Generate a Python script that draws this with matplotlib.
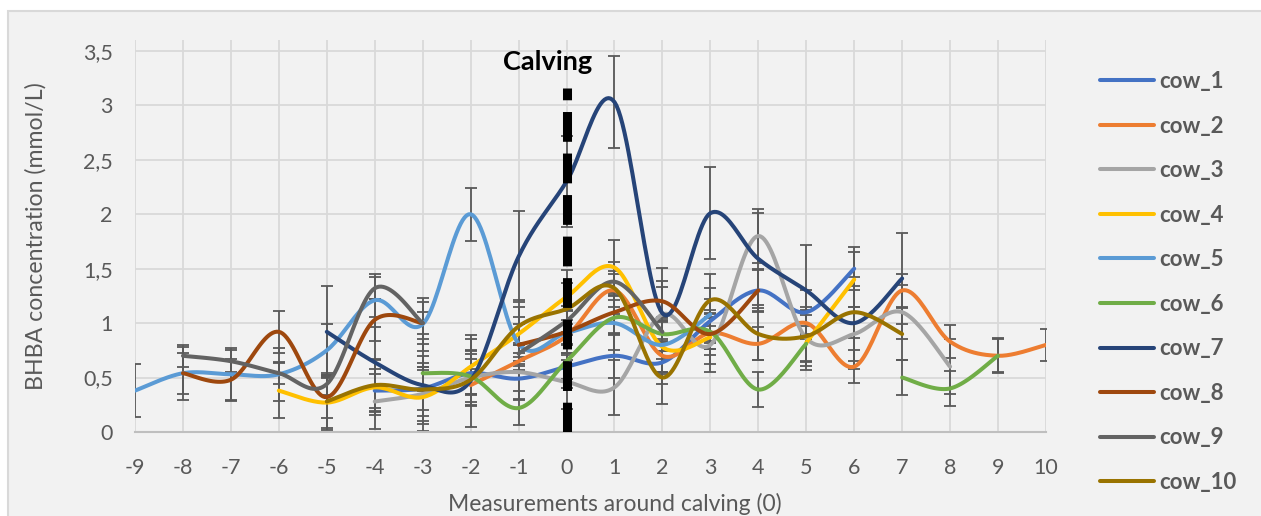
import matplotlib.pyplot as plt
import numpy as np
from matplotlib.patches import Rectangle

nan = np.nan

# measurement index around calving
days = list(range(-9, 11))

#        -9   -8   -7   -6   -5   -4   -3   -2   -1    0    1    2    3    4    5    6    7    8    9   10
cow_1 = [nan, nan, nan, nan, nan, 0.38, 0.40, 0.54, 0.49, 0.60, 0.70, 0.64, 1.02, 1.30, 1.10, 1.50, nan, nan, nan, nan]
cow_2 = [nan, nan, nan, nan, nan, nan, nan, 0.43, 0.65, 0.88, 1.30, 0.70, 0.91, 0.81, 1.00, 0.60, 1.30, 0.83, 0.70, 0.80]
cow_3 = [nan, nan, nan, nan, nan, 0.28, 0.35, 0.50, 0.55, 0.46, 0.41, 1.08, 0.80, 1.80, 0.86, 0.90, 1.10, 0.60, nan, nan]
cow_4 = [nan, nan, nan, 0.38, 0.27, 0.41, 0.32, 0.60, 0.90, 1.24, 1.51, 0.78, 0.87, nan, 0.82, 1.40, nan, nan, nan, nan]
cow_5 = [0.38, 0.54, 0.53, 0.53, 0.75, 1.21, 0.99, 2.00, 0.81, 0.91, 1.00, 0.80, 1.08, nan, nan, nan, nan, nan, nan, nan]
cow_6 = [nan, nan, nan, nan, nan, nan, 0.54, 0.51, 0.22, 0.65, 1.05, 0.90, 0.92, 0.39, 0.81, nan, 0.50, 0.40, 0.70, nan]
cow_7 = [nan, nan, nan, nan, 0.92, 0.64, 0.43, 0.47, 1.61, 2.30, 3.03, 1.09, 2.01, 1.59, 1.30, 1.00, 1.41, nan, nan, nan]
cow_8 = [nan, 0.54, 0.48, 0.92, 0.32, 1.03, 1.00, nan, 0.80, 0.92, 1.10, 1.20, 0.90, 1.30, nan, nan, nan, nan, nan, nan]
cow_9 = [nan, 0.70, 0.65, 0.54, 0.44, 1.32, 1.00, nan, 0.72, 1.02, 1.38, 0.92, nan, nan, nan, nan, nan, nan, nan, nan]
cow_10 = [nan, nan, nan, nan, 0.28, 0.43, 0.39, 0.48, 0.97, 1.13, 1.32, 0.50, 1.21, 0.90, 0.88, 1.10, 0.90, nan, nan, nan]

series = [cow_1, cow_2, cow_3, cow_4, cow_5, cow_6, cow_7, cow_8, cow_9, cow_10]
names = ['cow_1', 'cow_2', 'cow_3', 'cow_4', 'cow_5', 'cow_6', 'cow_7', 'cow_8', 'cow_9', 'cow_10']
# error bar size of each cow
errors = [0.20, 0.15, 0.25, 0.25, 0.245, 0.16, 0.42, 0.19, 0.10, 0.24]
colors = ['#4472C4', '#ED7D31', '#A5A5A5', '#FFC000', '#5B9BD5',
          '#70AD47', '#264478', '#9E480E', '#636363', '#997300']

calving_day = 0
calving_top = 3.16


def smooth_runs(xs, ys, n=25):
    # excel-like smoothed line, one bezier per segment, gaps kept
    xs = np.array(xs, dtype=float)
    ys = np.array(ys, dtype=float)
    runs = []
    cur = []
    for x, y in zip(xs, ys):
        if np.isnan(y):
            if cur:
                runs.append(cur)
            cur = []
        else:
            cur.append((x, y))
    if cur:
        runs.append(cur)
    out = []
    t = np.linspace(0, 1, n)[:, None]
    for run in runs:
        P = np.array(run)
        m = len(P)
        if m < 2:
            continue
        pts = []
        for i in range(m - 1):
            p0 = P[i - 1] if i > 0 else P[i]
            p1 = P[i]
            p2 = P[i + 1]
            p3 = P[i + 2] if i + 2 < m else P[i + 1]
            c1 = p1 + (p2 - p0) / 6
            c2 = p2 - (p3 - p1) / 6
            b = ((1 - t) ** 3) * p1 + 3 * ((1 - t) ** 2) * t * c1 + 3 * (1 - t) * t ** 2 * c2 + t ** 3 * p2
            pts.append(b if i == 0 else b[1:])
        out.append(np.vstack(pts))
    return out


plt.rcParams['font.family'] = ['Lato', 'DejaVu Sans']
plt.rcParams['axes.unicode_minus'] = False
text_col = '#595959'

fig = plt.figure(figsize=(12.61, 5.16), dpi=100)
fig.patch.set_facecolor('white')
frame = Rectangle((8 / 1261, -0.02), 1.0, 1 - 11 / 516 + 0.02, transform=fig.transFigure,
                  facecolor='#F2F2F2', edgecolor='#D9D9D9', linewidth=1.5, zorder=-5)
fig.patches.append(frame)

ax = fig.add_axes([135 / 1261, 1 - 432 / 516, (1046 - 135) / 1261, (432 - 40) / 516])
ax.set_zorder(2)
ax.set_facecolor('#F2F2F2')

for ys, name, err, col in zip(series, names, errors, colors):
    ys = np.array(ys, dtype=float)
    ok = ~np.isnan(ys)
    ax.errorbar(np.array(days)[ok], ys[ok], yerr=err, fmt='none', ecolor=text_col,
                elinewidth=1.3, capsize=4.3, capthick=1.3, zorder=2)
    first = True
    for seg in smooth_runs(days, ys):
        ax.plot(seg[:, 0], seg[:, 1], color=col, lw=2.9, solid_capstyle='round',
                label=name if first else None, zorder=3)
        first = False

ax.plot([calving_day, calving_day], [0, calving_top], color='black', lw=6.5,
        dashes=(3.3, 1.3), solid_capstyle='butt', zorder=5)
ax.text(-0.39, 3.40, 'Calving', fontsize=19.5, fontweight='bold', color='black',
        ha='center', va='center', zorder=6)

ax.set_xlim(-9, 10)
ax.set_ylim(0, 3.6)
ax.set_xticks(days)
ax.set_yticks([0, 0.5, 1, 1.5, 2, 2.5, 3, 3.5])
ax.set_yticklabels(['0', '0,5', '1', '1,5', '2', '2,5', '3', '3,5'])
ax.grid(True, color='#D9D9D9', lw=1.3)
ax.set_axisbelow(True)
for s in ['top', 'right', 'left']:
    ax.spines[s].set_visible(False)
ax.spines['bottom'].set_color('#BFBFBF')
ax.spines['bottom'].set_linewidth(1.5)
ax.tick_params(axis='both', length=0, labelsize=15.5, labelcolor=text_col)
ax.tick_params(axis='y', pad=16)
ax.tick_params(axis='x', pad=19)
ax.set_xlabel('Measurements around calving (0)', fontsize=16.5, color=text_col, labelpad=6)
ax.xaxis.set_label_coords(0.527, -0.155)
ax.set_ylabel('BHBA concentration (mmol/L)', fontsize=16.7, color=text_col, labelpad=26)

handles, labels = ax.get_legend_handles_labels()
leg = fig.legend(handles, labels, loc='upper left', bbox_to_anchor=(1080 / 1261, 1 - 51 / 516),
                 frameon=False, fontsize=16, handlelength=2.43, labelspacing=1.06,
                 handletextpad=0.22)
for txt in leg.get_texts():
    txt.set_color(text_col)
    txt.set_fontweight('bold')

fig.savefig('out.png', dpi=100, facecolor=fig.get_facecolor())
